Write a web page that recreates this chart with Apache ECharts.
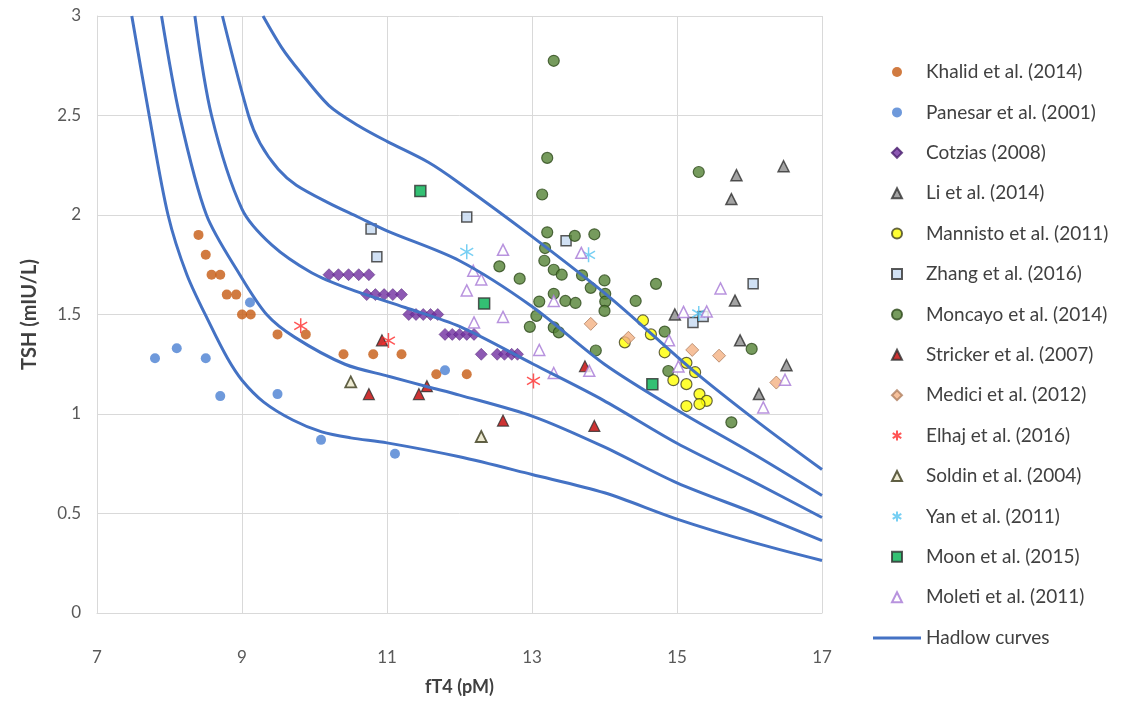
<!DOCTYPE html>
<html><head><meta charset="utf-8">
<script src="https://cdn.jsdelivr.net/npm/echarts@6/dist/echarts.min.js"></script>
<style>html,body{margin:0;padding:0;background:#fff}#c{width:1125px;height:701px}</style>
</head><body><div id="c"></div>
<script>
// ---------- data (fT4 pM, TSH mIU/L) ----------
const xTicks = [7, 9, 11, 13, 15, 17];
const yTicks = [0, 0.5, 1, 1.5, 2, 2.5, 3];

const khalid = [[8.40,1.90],[8.50,1.80],[8.58,1.70],[8.70,1.70],[8.79,1.60],[8.92,1.60],[9.00,1.50],[9.12,1.50],[9.49,1.40],[9.88,1.40],[10.40,1.30],[10.81,1.30],[11.20,1.30],[11.68,1.20],[12.10,1.20]];
const panesar = [[7.80,1.28],[8.10,1.33],[8.50,1.28],[8.70,1.09],[9.11,1.56],[9.49,1.10],[10.09,0.87],[11.11,0.80],[11.80,1.22]];
const cotzias = [[10.20,1.70],[10.33,1.70],[10.47,1.70],[10.61,1.70],[10.75,1.70],
                 [10.72,1.60],[10.84,1.60],[10.96,1.60],[11.08,1.60],[11.20,1.60],
                 [11.30,1.50],[11.40,1.50],[11.50,1.50],[11.60,1.50],[11.70,1.50],
                 [11.80,1.40],[11.90,1.40],[12.00,1.40],[12.10,1.40],[12.20,1.40],
                 [12.30,1.30],[12.52,1.30],[12.62,1.30],[12.72,1.30],[12.80,1.30]];
const li = [[15.82,2.20],[16.47,2.245],[15.75,2.08],[15.80,1.57],[14.97,1.50],[15.87,1.37],[16.51,1.245],[16.13,1.10]];
const mannisto = [[14.53,1.47],[14.64,1.40],[14.83,1.31],[14.28,1.36],[15.13,1.257],[15.25,1.21],[14.95,1.17],[15.13,1.15],[15.31,1.10],[15.41,1.066],[15.31,1.05],[15.13,1.04]];
const zhang = [[10.78,1.93],[10.86,1.79],[12.10,1.99],[13.47,1.87],[16.05,1.655],[15.22,1.46],[15.36,1.49]];
const moncayo = [[13.30,2.775],[13.21,2.287],[13.14,2.103],[15.30,2.216],[13.21,1.913],[13.59,1.895],[13.86,1.903],[13.18,1.834],[13.17,1.77],[12.55,1.742],[13.30,1.725],[13.41,1.70],[12.83,1.68],[13.69,1.697],[14.00,1.671],[14.71,1.654],[13.81,1.634],[14.01,1.604],[14.43,1.568],[13.10,1.565],[13.30,1.604],[13.46,1.568],[13.60,1.558],[14.01,1.565],[13.06,1.493],[12.97,1.438],[13.30,1.435],[13.37,1.41],[14.00,1.518],[13.88,1.319],[14.83,1.414],[14.88,1.216],[16.03,1.327],[15.75,0.958]];
const stricker = [[10.93,1.37],[10.75,1.10],[11.44,1.10],[11.55,1.14],[12.60,0.967],[13.73,1.24],[13.86,0.94]];
const medici = [[13.81,1.453],[14.33,1.383],[15.21,1.322],[15.58,1.293],[16.37,1.158]];
const elhaj = [[9.81,1.443],[11.02,1.369],[13.02,1.166]];
const soldin = [[10.50,1.161],[12.30,0.887]];
const yan = [[12.10,1.815],[13.78,1.80],[15.30,1.505]];
const moon = [[11.46,2.12],[12.34,1.555],[14.66,1.15]];
const moleti = [[12.60,1.825],[12.19,1.72],[12.30,1.676],[12.10,1.621],[12.60,1.488],[12.20,1.46],[13.10,1.322],[13.30,1.206],[13.30,1.568],[13.68,1.81],[13.79,1.217],[14.89,1.37],[15.02,1.239],[15.09,1.513],[15.41,1.515],[15.60,1.631],[16.49,1.172],[16.19,1.033]];

const hadlow1 = [[7.48,3.0],[7.72,2.5],[7.98,2.0],[8.24,1.70],[8.56,1.45],[8.80,1.28],[9.00,1.17],[9.30,1.06],[9.70,0.97],[10.10,0.91],[10.50,0.88],[11.00,0.855],[12.00,0.785],[13.00,0.696],[14.00,0.604],[15.00,0.472],[16.05,0.355],[17.00,0.264]];
const hadlow2 = [[7.89,3.0],[8.14,2.5],[8.51,2.0],[8.97,1.70],[9.34,1.50],[9.73,1.385],[10.42,1.25],[11.02,1.19],[11.57,1.136],[12.00,1.095],[13.02,0.987],[13.98,0.837],[15.00,0.654],[16.05,0.505],[17.00,0.364]];
const hadlow3 = [[8.35,3.0],[8.58,2.5],[9.00,2.03],[9.41,1.85],[9.96,1.71],[10.47,1.63],[11.25,1.535],[12.00,1.44],[13.02,1.25],[13.98,1.07],[15.00,0.853],[16.00,0.67],[17.00,0.48]];
const hadlow4 = [[8.73,3.0],[9.09,2.5],[9.25,2.36],[9.50,2.23],[9.75,2.15],[10.20,2.06],[10.60,1.99],[11.00,1.92],[12.00,1.77],[13.00,1.54],[14.00,1.25],[15.00,1.02],[16.05,0.80],[17.00,0.59]];
const hadlow5 = [[9.29,3.0],[9.55,2.84],[9.80,2.72],[10.20,2.55],[10.60,2.45],[11.00,2.37],[11.57,2.265],[12.00,2.16],[12.97,1.90],[14.08,1.584],[15.22,1.219],[16.14,0.953],[17.00,0.721]];

// ---------- styling ----------
const FONT = 'Lato, "Open Sans", sans-serif';
const STAR = 'path://M5,0L5,10M0.7,2.5L9.3,7.5M0.7,7.5L9.3,2.5';
const dark = '#404040';
const BLUE = '#4472C4';

function sc(name, data, symbol, size, itemStyle) {
  return { type: 'scatter', name, data, symbol, symbolSize: size, symbolKeepAspect: true,
           itemStyle, z: 2, emphasis: { disabled: true } };
}
function hl(data) {
  return { type: 'line', name: 'Hadlow curves', data, symbol: 'none', showSymbol: false,
           smooth: 0.3, z: 3, silent: true,
           lineStyle: { color: BLUE, width: 3 }, itemStyle: { color: BLUE } };
}

const series = [
  sc('Khalid et al. (2014)', khalid, 'circle', 10, { color: '#C55A11' }),
  sc('Panesar et al. (2001)', panesar, 'circle', 10, { color: '#4A7FD2' }),
  sc('Cotzias (2008)', cotzias, 'diamond', 12, { color: '#7030A0', borderColor: '#4A1F6E', borderWidth: 0.6 }),
  sc('Li et al. (2014)', li, 'triangle', 11, { color: '#8C8C8C', borderColor: '#303030', borderWidth: 1.5 }),
  sc('Mannisto et al. (2011)', mannisto, 'circle', 11, { color: '#FFFF00', borderColor: '#404020', borderWidth: 1.2 }),
  sc('Zhang et al. (2016)', zhang, 'rect', 10, { color: '#C5D9F1', borderColor: '#303030', borderWidth: 1.5 }),
  sc('Moncayo et al. (2014)', moncayo, 'circle', 11, { color: '#548235', borderColor: '#2E4A1C', borderWidth: 1.2 }),
  sc('Stricker et al. (2007)', stricker, 'triangle', 11, { color: '#C00000', borderColor: '#303030', borderWidth: 1.2 }),
  sc('Medici et al. (2012)', medici, 'diamond', 13, { color: '#F4B183', borderColor: '#B08060', borderWidth: 1 }),
  sc('Elhaj et al. (2016)', elhaj, STAR, 15, { color: '#FF2A2A', borderColor: '#FF2A2A', borderWidth: 1.5 }),
  sc('Soldin et al. (2004)', soldin, 'triangle', 11, { color: '#EAE6C8', borderColor: '#3A3A1A', borderWidth: 1.8 }),
  sc('Yan et al. (2011)', yan, STAR, 15, { color: '#55C3F0', borderColor: '#55C3F0', borderWidth: 1.5 }),
  sc('Moon et al. (2015)', moon, 'rect', 11, { color: '#00B050', borderColor: '#303030', borderWidth: 1.5 }),
  sc('Moleti et al. (2011)', moleti, 'triangle', 11, { color: '#FFFFFF', borderColor: '#A678D6', borderWidth: 1.5 }),
  hl(hadlow1), hl(hadlow2), hl(hadlow3), hl(hadlow4), hl(hadlow5)
];

const scatterNames = series.filter(s => s.type === 'scatter').map(s => s.name);
const LEG_FS = 19;

const chart = echarts.init(document.getElementById('c'), null, { renderer: 'canvas' });
chart.setOption({
  animation: false,
  backgroundColor: '#ffffff',
  textStyle: { fontFamily: FONT },
  grid: { left: 97, right: 303, top: 16, bottom: 83, containLabel: false },
  legend: [{
    data: scatterNames, orient: 'vertical', left: 886, top: 57,
    itemWidth: 10, itemHeight: 10, itemGap: 20.4,
    textStyle: { fontFamily: FONT, fontSize: LEG_FS, color: dark, lineHeight: 20, padding: [0, 0, 0, 19] },
    selectedMode: false
  }, {
    data: [{ name: 'Hadlow curves', icon: 'rect', itemStyle: { color: BLUE, borderWidth: 0 } }],
    orient: 'vertical', left: 868, top: 623,
    itemWidth: 48, itemHeight: 3,
    textStyle: { fontFamily: FONT, fontSize: LEG_FS, color: dark, lineHeight: 20, padding: [0, 0, 0, 0] },
    selectedMode: false
  }],
  xAxis: {
    type: 'value', min: xTicks[0], max: xTicks[xTicks.length - 1], interval: 2,
    name: 'fT4 (pM)', nameLocation: 'middle', nameGap: 65,
    nameTextStyle: { fontFamily: FONT, fontSize: 18, fontWeight: 'bold', color: dark },
    axisLine: { show: true, lineStyle: { color: '#D9D9D9' } },
    axisTick: { show: false },
    axisLabel: { margin: 36, fontSize: 17, color: '#595959', fontFamily: FONT },
    splitLine: { show: true, lineStyle: { color: '#D9D9D9', width: 1 } }
  },
  yAxis: {
    type: 'value', min: yTicks[0], max: yTicks[yTicks.length - 1], interval: 0.5,
    name: 'TSH (mIU/L)', nameLocation: 'middle', nameGap: 57, nameRotate: 90,
    nameTextStyle: { fontFamily: FONT, fontSize: 20, fontWeight: 'bold', color: dark },
    axisLine: { show: true, lineStyle: { color: '#D9D9D9' } },
    axisTick: { show: false },
    axisLabel: { margin: 16, fontSize: 17, color: '#595959', fontFamily: FONT },
    splitLine: { show: true, lineStyle: { color: '#D9D9D9', width: 1 } }
  },
  series
});
</script>
</body></html>
